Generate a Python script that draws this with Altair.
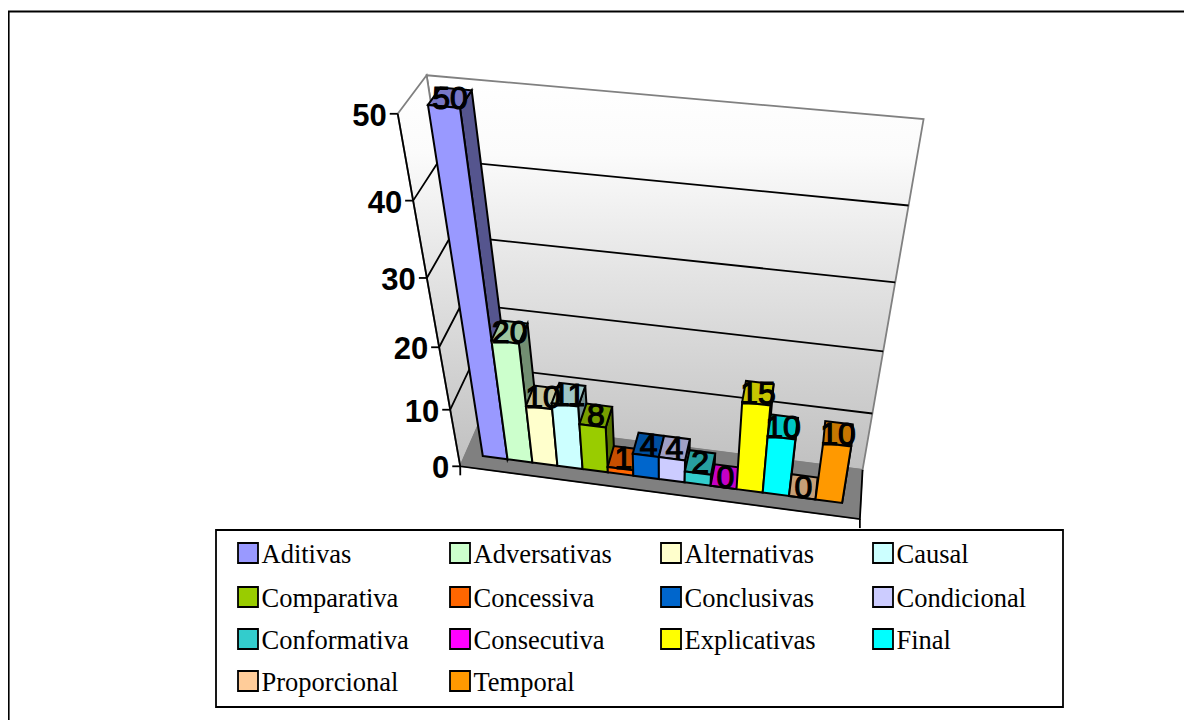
import altair as alt
import numpy as np
import pandas as pd

# ---------- chart values ----------
categories = ["Aditivas", "Adversativas", "Alternativas", "Causal", "Comparativa", "Concessiva",
              "Conclusivas", "Condicional", "Conformativa", "Consecutiva", "Explicativas", "Final",
              "Proporcional", "Temporal"]
values = [50, 20, 10, 11, 8, 1, 4, 4, 2, 0, 15, 10, 0, 10]
colors = ["#9999FF", "#CCFFCC", "#FFFFCC", "#CCFFFF", "#99CC00", "#FF6600", "#0066CC", "#CCCCFF",
          "#33CCCC", "#FF00FF", "#FFFF00", "#00FFFF", "#FFCC99", "#FF9900"]
axis_ticks = [0, 10, 20, 30, 40, 50]
axis_max = 50

W, H = 1176, 712
OFF = 8

# ---------- camera calibration of the 3-D box (u along, v up, w back -> page px) ----------
heights = [1, .8, .6, .4, .2, 0]
front_left = [(398, 114), (413, 202), (427, 277), (439, 347), (450, 409), (460, 467)]
back_left = [(426, 74), (440, 160), (451, 236), (463, 304), (472, 365), (479, 421)]
back_right = [(924, 119), (908, 205), (895, 283), (883, 352), (872, 413), (863, 470)]
front_right_floor = (860, 519)

corr = []
for h, a, b, c in zip(heights, front_left, back_left, back_right):
    corr += [((0, h, 0), a), ((0, h, 1), b), ((1, h, 1), c)]
corr += [((1, 0, 0), front_right_floor)] * 3
A = []
for (u, v, w), (sx, sy) in corr:
    sx, sy = sx / 1000, sy / 1000
    A.append([u, v, w, 1, 0, 0, 0, 0, -sx * u, -sx * v, -sx * w, -sx])
    A.append([0, 0, 0, 0, u, v, w, 1, -sy * u, -sy * v, -sy * w, -sy])
M = np.linalg.svd(np.array(A))[2][-1].reshape(3, 4)


def P(u, v, w):
    q = M @ np.array([u, v, w, 1.0])
    return [float(q[0] / q[2] * 1000 - OFF), float(q[1] / q[2] * 1000 - OFF)]


def poly(points, fill, stroke="#000000", sw=2.0):
    return {"type": "Feature", "properties": {"fill": fill, "stroke": stroke, "sw": sw},
            "geometry": {"type": "Polygon", "coordinates": [points + [points[0]]]}}


def line(points, stroke="#000000", sw=1.8):
    return {"type": "Feature", "properties": {"stroke": stroke, "sw": sw},
            "geometry": {"type": "LineString", "coordinates": points}}


def shade(c, k):
    r, g, b = int(c[1:3], 16), int(c[3:5], 16), int(c[5:7], 16)
    return "#%02x%02x%02x" % (int(r * k), int(g * k), int(b * k))


PROJ = dict(type="identity", scale=1, translate=[0, 0])


def filled_layer(features):
    return alt.Chart(alt.Data(values=features)).mark_geoshape().encode(
        color=alt.Color("properties.fill:N", scale=None),
        stroke=alt.Stroke("properties.stroke:N", scale=None),
        strokeWidth=alt.StrokeWidth("properties.sw:Q", scale=None),
    ).project(**PROJ)


def line_layer(features):
    return alt.Chart(alt.Data(values=features)).mark_geoshape(filled=False).encode(
        stroke=alt.Stroke("properties.stroke:N", scale=None),
        strokeWidth=alt.StrokeWidth("properties.sw:Q", scale=None),
    ).project(**PROJ)


wall_grad = alt.LinearGradient(gradient="linear", x1=0, x2=0, y1=0, y2=1,
                               stops=[alt.GradientStop(color="#ffffff", offset=0),
                                      alt.GradientStop(color="#fbfbfb", offset=0.2),
                                      alt.GradientStop(color="#e4e4e4", offset=0.5),
                                      alt.GradientStop(color="#c0c0c0", offset=1)])


def wall_layer(points):
    f = poly(points, "none")
    return alt.Chart(alt.Data(values=[f])).mark_geoshape(
        fill=wall_grad, stroke="#808080", strokeWidth=1.8).project(**PROJ)


# page background (also pins the projection to the page) and the outer frame
page = filled_layer([poly([[0, 0], [W, 0], [W, H], [0, H]], "#ffffff", "#ffffff", 0)])
frame = line_layer([line([[0.5, H], [0.5, 3.5], [W, 3.5]], "#000000", 2.2)])

back = wall_layer([P(0, 1, 1), P(1, 1, 1), P(1, 0, 1), P(0, 0, 1)])
left = wall_layer([P(0, 1, 0), P(0, 1, 1), P(0, 0, 1), P(0, 0, 0)])
floor = filled_layer([poly([P(0, 0, 0), P(0, 0, 1), P(1, 0, 1), P(1, 0, 0)], "#808080", "#808080", 1.2)])

frame_lines = []
for t in axis_ticks[1:-1]:
    v = t / axis_max
    frame_lines.append(line([P(0, v, 0), P(0, v, 1), P(1, v, 1)]))
frame_lines.append(line([P(0, 1, 0), P(0, 0, 0), P(1, 0, 0), P(1, 0, 1)]))
for t in axis_ticks:
    a = P(0, t / axis_max, 0)
    frame_lines.append(line([[a[0] - 8, a[1]], a]))
a = P(0, 0, 0)
frame_lines.append(line([a, [a[0], a[1] + 9]]))
a = P(1, 0, 0)
frame_lines.append(line([a, [a[0], a[1] + 9]]))
grid = line_layer(frame_lines)

# bars
BAR_U0, BAR_U1 = 0.045, 0.955
BAR_W0, BAR_W1 = 0.27, 0.72
step = (BAR_U1 - BAR_U0) / len(values)
bars = []
lab_rows = []
for i, (val, col) in enumerate(zip(values, colors)):
    u0, u1 = BAR_U0 + i * step, BAR_U0 + (i + 1) * step
    v = val / axis_max
    bars.append(poly([P(u1, 0, BAR_W0), P(u1, 0, BAR_W1), P(u1, v, BAR_W1), P(u1, v, BAR_W0)], shade(col, .56)))
    bars.append(poly([P(u0, v, BAR_W0), P(u1, v, BAR_W0), P(u1, v, BAR_W1), P(u0, v, BAR_W1)], shade(col, .78)))
    bars.append(poly([P(u0, 0, BAR_W0), P(u1, 0, BAR_W0), P(u1, v, BAR_W0), P(u0, v, BAR_W0)], col))
    x, y = P((u0 + u1) / 2, v, (BAR_W0 + BAR_W1) / 2)
    lab_rows.append({"x": x, "y": y + 1, "t": str(val)})
bar_layer = filled_layer(bars)

X = alt.X("x:Q", scale=alt.Scale(domain=[0, W]), axis=None)
Y = alt.Y("y:Q", scale=alt.Scale(domain=[H, 0]), axis=None)

data_labels = alt.Chart(pd.DataFrame(lab_rows)).mark_text(
    font="Liberation Sans", fontSize=32, color="black", stroke="black", strokeWidth=1.2,
    align="center", baseline="middle").encode(x=X, y=Y, text="t:N")

tick_rows = []
for t in axis_ticks:
    a = P(0, t / axis_max, 0)
    tick_rows.append({"x": a[0] - 11, "y": a[1] + 3, "t": str(t)})
tick_labels = alt.Chart(pd.DataFrame(tick_rows)).mark_text(
    font="Liberation Sans", fontWeight="bold", fontSize=31, color="black",
    align="right", baseline="middle").encode(x=X, y=Y, text="t:N")

# legend
col_x = [238, 450, 661, 873]
row_y = [553, 597, 639, 681]
LEG_BOX = [216, 530, 1063, 707]
leg_box = filled_layer([poly([[LEG_BOX[0] - OFF, LEG_BOX[1] - OFF], [LEG_BOX[2] - OFF, LEG_BOX[1] - OFF],
                              [LEG_BOX[2] - OFF, LEG_BOX[3] - OFF], [LEG_BOX[0] - OFF, LEG_BOX[3] - OFF]],
                             "#ffffff", "#000000", 1.8)])
swatches, leg_rows = [], []
for i, (name, col) in enumerate(zip(categories, colors)):
    cx, cy = col_x[i % 4] - OFF, row_y[i // 4] - OFF
    swatches.append(poly([[cx, cy - 10], [cx + 20, cy - 10], [cx + 20, cy + 10], [cx, cy + 10]], col, "#000000", 1.8))
    leg_rows.append({"x": cx + 23.5, "y": cy + 10, "t": name})
leg_swatch = filled_layer(swatches)
leg_text = alt.Chart(pd.DataFrame(leg_rows)).mark_text(
    font="Liberation Serif", fontSize=26.5, color="black", align="left", baseline="alphabetic"
).encode(x=X, y=Y, text="t:N")

chart = alt.layer(page, frame, back, left, floor, grid, bar_layer, data_labels, tick_labels,
                  leg_box, leg_swatch, leg_text).properties(
    width=W, height=H, padding=0, autosize=alt.AutoSizeParams(type="none")
).configure_view(stroke=None)

chart.save("out.html", embed_options={"renderer": "svg", "actions": False})
